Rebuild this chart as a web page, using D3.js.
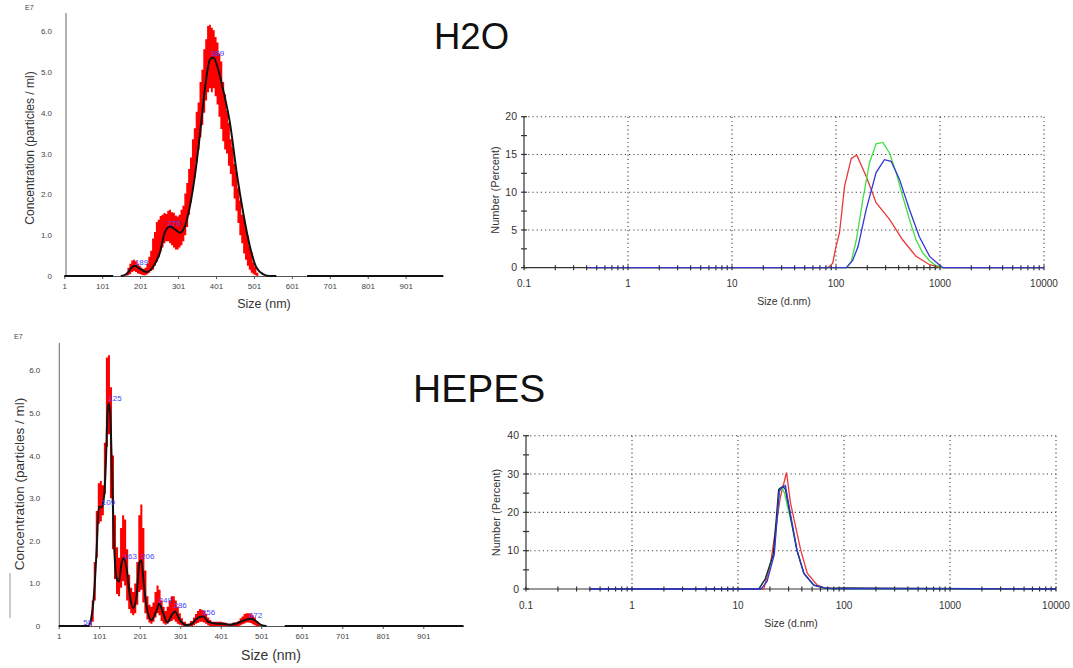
<!DOCTYPE html>
<html>
<head>
<meta charset="utf-8">
<script src="https://cdn.jsdelivr.net/npm/d3@7"></script>
<style>
body { margin: 0; background: #fff; }
svg { display: block; font-family: "Liberation Sans", Arial, sans-serif; }
</style>
</head>
<body>
<svg id="fig" width="1073" height="668"></svg>
<script>
// ---- NTA, H2O ----
const h2oMeanSize = [1, 130, 140, 150, 160, 170, 178, 187, 200, 218, 236, 253, 266, 280, 293, 306, 319, 332, 346, 359, 372, 385, 394, 407, 420, 438, 456, 473, 491, 508, 526, 543, 560, 640, 641, 1000];
const h2oMeanConc = [0, 0, null, 0, 0.02, 0.1, 0.2, 0.25, 0.18, 0.1, 0.24, 0.57, 1.07, 1.21, 1.14, 1.06, 1.22, 1.7, 2.5, 3.5, 4.6, 5.3, 5.35, 5.05, 4.55, 3.73, 2.5, 1.53, 0.7, 0.2, 0.04, 0, 0, null, 0, 0];
const h2oBandSize = [165, 170, 175, 180, 185, 190, 195, 200, 205, 210, 215, 220, 225, 230, 235, 240, 245, 250, 255, 260, 265, 270, 275, 280, 285, 290, 295, 300, 305, 310, 315, 320, 325, 330, 335, 340, 345, 350, 355, 360, 365, 370, 375, 380, 385, 390, 395, 400, 405, 410, 415, 420, 425, 430, 435, 440, 445, 450, 455, 460, 465, 470, 475, 480, 485, 490, 495, 500, 505, 510, 515];
const h2oBandUpper = [0.05, 0.2, 0.3, 0.38, 0.4, 0.36, 0.3, 0.25, 0.2, 0.17, 0.2, 0.3, 0.47, 0.62, 0.92, 1.08, 1.32, 1.38, 1.47, 1.5, 1.54, 1.52, 1.6, 1.62, 1.56, 1.55, 1.48, 1.46, 1.5, 1.62, 1.72, 2.02, 2.28, 2.62, 2.9, 3.35, 3.62, 4.02, 4.25, 4.75, 5.05, 5.55, 5.8, 6.12, 6.15, 6.08, 6.02, 5.85, 5.72, 5.45, 5.25, 4.75, 4.45, 4.05, 3.75, 3.35, 3.15, 2.75, 2.55, 2.15, 1.85, 1.5, 1.42, 1.18, 0.98, 0.72, 0.58, 0.33, 0.22, 0.08, 0];
const h2oBandLower = [0, 0.02, 0.05, 0.1, 0.12, 0.1, 0.06, 0.05, 0.03, 0.02, 0.02, 0.04, 0.08, 0.12, 0.15, 0.25, 0.35, 0.45, 0.6, 0.7, 0.8, 0.85, 0.85, 0.8, 0.75, 0.7, 0.65, 0.65, 0.7, 0.75, 0.85, 1.0, 1.2, 1.5, 1.8, 2.1, 2.4, 2.8, 3.1, 3.4, 3.7, 4.0, 4.3, 4.5, 4.6, 4.5, 4.6, 4.4, 4.2, 3.9, 3.6, 3.3, 3.1, 3.0, 2.7, 2.5, 2.2, 1.9, 1.6, 1.3, 1.0, 0.8, 0.55, 0.4, 0.25, 0.15, 0.08, 0.04, 0.02, 0, 0];
const h2oPeakSize = [189, 275, 389];
const h2oPeakConc = [0.25, 1.2, 5.35];

// ---- NTA, HEPES ----
const hepesMeanSize = [1, 74, 82, 89, 95, 100, 107, 113, 118, 121, 124, 128, 132, 137, 144, 150, 156, 162, 169, 177, 185, 193, 200, 205, 211, 218, 230, 243, 249, 259, 269, 280, 288, 300, 317, 329, 346, 358, 370, 387, 407, 424, 440, 461, 477, 490, 502, 514, 558, 559, 1000];
const hepesMeanConc = [0, 0, 0.22, 0.85, 1.86, 2.8, 2.78, 3.04, 3.98, 4.92, 5.23, 5.0, 3.82, 2.1, 1.12, 1.04, 1.47, 1.59, 1.32, 0.69, 0.42, 0.69, 1.47, 1.54, 1.0, 0.45, 0.14, 0.38, 0.52, 0.3, 0.08, 0.26, 0.34, 0.14, 0.02, 0.05, 0.2, 0.22, 0.1, 0.06, 0.05, 0.03, 0.06, 0.14, 0.17, 0.1, 0.02, 0, null, 0, 0];
const hepesBandSize = [80, 85, 90, 95, 100, 105, 110, 115, 120, 125, 130, 135, 140, 145, 150, 155, 160, 165, 170, 175, 180, 185, 190, 195, 200, 205, 210, 215, 220, 225, 230, 235, 240, 245, 250, 255, 260, 265, 270, 275, 280, 285, 290, 295, 300, 305, 310, 320, 330, 335, 340, 345, 350, 355, 360, 365, 370, 375, 380, 390, 400, 410, 420, 440, 445, 450, 455, 460, 465, 470, 475, 480, 485, 490, 495, 500];
const hepesBandUpper = [0.2, 0.6, 1.5, 2.7, 3.35, 3.4, 3.3, 4.3, 6.3, 6.35, 5.6, 4.0, 2.6, 1.85, 1.6, 2.3, 2.6, 2.5, 1.8, 1.2, 0.9, 0.8, 1.0, 1.5, 2.6, 2.85, 2.3, 1.3, 0.7, 0.5, 0.45, 0.55, 0.8, 0.95, 0.85, 0.6, 0.45, 0.35, 0.45, 0.6, 0.7, 0.7, 0.6, 0.45, 0.3, 0.18, 0.1, 0.05, 0.12, 0.2, 0.28, 0.35, 0.4, 0.38, 0.35, 0.28, 0.2, 0.14, 0.1, 0.1, 0.1, 0.08, 0.05, 0.08, 0.12, 0.18, 0.22, 0.28, 0.3, 0.3, 0.3, 0.25, 0.2, 0.12, 0.06, 0];
const hepesBandLower = [0, 0.1, 0.6, 1.6, 2.4, 2.45, 2.6, 3.1, 4.2, 4.5, 3.0, 1.8, 1.1, 0.75, 0.7, 0.9, 1.05, 0.95, 0.6, 0.4, 0.3, 0.25, 0.3, 0.5, 0.8, 0.85, 0.55, 0.3, 0.15, 0.08, 0.05, 0.1, 0.2, 0.3, 0.25, 0.12, 0.06, 0.03, 0.06, 0.1, 0.12, 0.15, 0.1, 0.05, 0.03, 0.01, 0, 0, 0, 0.02, 0.05, 0.07, 0.1, 0.1, 0.08, 0.05, 0.02, 0, 0, 0, 0, 0, 0, 0, 0, 0.02, 0.04, 0.06, 0.08, 0.08, 0.07, 0.04, 0.02, 0, 0, 0];
const hepesPeakSize = [58, 109, 125, 163, 206, 249, 286, 356, 472];
const hepesPeakConc = [0, 2.8, 5.25, 1.55, 1.55, 0.5, 0.4, 0.22, 0.17];

const ntaTicks = [1, 101, 201, 301, 401, 501, 601, 701, 801, 901];
const ntaConcTicks = [0, 1, 2, 3, 4, 5, 6];

// ---- DLS, H2O (Number %) ----
const h2oDlsRedSize = [0.4, 80, 86, 93, 100, 108, 121, 140, 158, 195, 243, 327, 437, 588, 795, 1000, 1100, 10000];
const h2oDlsRedPct = [0, 0, 0.1, 0.6, 2.8, 4.6, 10.8, 14.45, 14.93, 12.1, 8.6, 6.4, 3.7, 1.5, 0.4, 0.05, 0, 0];
const h2oDlsGreenSize = [0.4, 126, 140, 157, 181, 210, 243, 282, 327, 379, 437, 508, 588, 680, 795, 914, 1060, 10000];
const h2oDlsGreenPct = [0, 0, 0.8, 3.7, 9, 13.9, 16.4, 16.6, 15.2, 12.6, 9.5, 6.4, 3.7, 2.0, 0.9, 0.3, 0, 0];
const h2oDlsBlueSize = [0.4, 126, 145, 163, 195, 243, 292, 339, 408, 508, 633, 795, 1000, 1075, 10000];
const h2oDlsBluePct = [0, 0, 1.0, 2.8, 7.7, 12.6, 14.3, 14.1, 11.7, 7.7, 4.1, 1.5, 0.3, 0, 0];

// ---- DLS, HEPES (Number %) ----
const hepesDlsRedSize = [0.4, 17.5, 20.3, 25.1, 28.7, 31.3, 39, 45, 56, 65, 80, 100, 10000];
const hepesDlsRedPct = [0, 0, 6.7, 24, 30.4, 22.4, 10.2, 4.1, 1.0, 0.3, 0.1, 0, 0];
const hepesDlsGreenSize = [0.4, 15.7, 18.2, 21.8, 24.8, 26, 27.5, 32, 36, 41.7, 51.8, 64.6, 80, 10000];
const hepesDlsGreenPct = [0, 0, 2.8, 9.3, 26.3, 26.4, 25, 17, 10, 4.1, 1.0, 0.3, 0, 0];
const hepesDlsDarkSize = [0.4, 15.7, 18, 21.5, 24.2, 26.5, 28, 32, 36, 42, 52, 65, 80, 100, 10000];
const hepesDlsDarkPct = [0, 0, 2.5, 9, 26, 26.8, 26, 17.5, 10, 4, 1, 0.3, 0.2, 0.3, 0];
const hepesDlsBlueSize = [0.4, 16.5, 18.8, 22, 24.5, 26, 28, 32, 36, 41.7, 51.8, 64.6, 80, 95, 10000];
const hepesDlsBluePct = [0, 0, 2, 9, 25.5, 26.5, 27, 18, 10.2, 4.1, 1.0, 0.3, 0.05, 0.1, 0];

const dlsDecades = [0.1, 1, 10, 100, 1000, 10000];

const svg = d3.select("#fig");

const zip = (a, b) => a.map((v, i) => [v, b[i]]);

const drawNta = (o) => {
    const x = d3.scaleLinear().domain([1, 1000]).range([o.x0, o.x1]);
    const y = d3.scaleLinear().domain([0, o.yMax]).range([o.yBase, o.yTop]);
    const g = svg.append("g");

    g.append("text")
     .attr("x", o.e7x).attr("y", o.e7y)
     .attr("font-size", 7).attr("fill", "#444")
     .text("E7");

    // y axis: line plus labels, no ticks
    g.append("line")
     .attr("x1", o.axisX).attr("x2", o.axisX)
     .attr("y1", o.yTop).attr("y2", o.yBase)
     .attr("stroke", "#666").attr("stroke-width", 1);
    const ya = g.append("g")
                .attr("transform", `translate(${o.axisX},0)`)
                .call(d3.axisLeft(y).tickValues(ntaConcTicks).tickSize(0)
                        .tickPadding(o.yPad)
                        .tickFormat(d => d === 0 ? "0" : d.toFixed(1)));
    ya.select(".domain").remove();
    ya.selectAll("text").attr("font-size", 8).attr("fill", "#444")
      .attr("font-family", "Liberation Sans, Arial, sans-serif");

    const xa = g.append("g")
                .attr("transform", `translate(0,${o.yBase})`)
                .call(d3.axisBottom(x).tickValues(ntaTicks).tickSize(3)
                        .tickSizeOuter(0).tickPadding(4));
    xa.select(".domain").attr("stroke", "#555");
    xa.selectAll(".tick line").attr("stroke", "#555");
    xa.selectAll("text").attr("font-size", 8).attr("fill", "#444")
      .attr("font-family", "Liberation Sans, Arial, sans-serif");

    // red spread
    g.append("path")
     .datum(o.bandSize.map((s, i) => [s, o.bandLower[i], o.bandUpper[i]]))
     .attr("fill", "#ff0000")
     .attr("d", d3.area().curve(d3.curveStep)
                  .x(d => x(d[0])).y0(d => y(d[1])).y1(d => y(d[2])));

    // mean
    g.append("path")
     .datum(zip(o.meanSize, o.meanConc))
     .attr("fill", "none").attr("stroke", "#111").attr("stroke-width", 2)
     .attr("d", d3.line().defined(d => d[1] !== null)
                  .curve(d3.curveMonotoneX)
                  .x(d => x(d[0])).y(d => y(d[1])));

    g.selectAll("text.peak")
     .data(zip(o.peakSize, o.peakConc))
     .join("text")
     .attr("class", "peak")
     .attr("x", d => x(d[0]) + 6).attr("y", d => y(d[1]) - 4)
     .attr("dy", "0.35em")
     .attr("text-anchor", "middle")
     .attr("font-size", 8).attr("fill", "#4444ff")
     .text(d => d[0]);

    g.append("text")
     .attr("transform", `translate(${o.yLabX},${o.yLabY}) rotate(-90)`)
     .attr("text-anchor", "middle").attr("dy", "0.35em")
     .attr("font-size", o.labSize).attr("fill", "#333")
     .text("Concentration (particles / ml)");

    g.append("text")
     .attr("x", o.xLabX).attr("y", o.xLabY)
     .attr("text-anchor", "middle").attr("dy", "0.35em")
     .attr("font-size", o.labSize + 0.5).attr("fill", "#333")
     .text("Size (nm)");
};

const drawDls = (o) => {
    const x = d3.scaleLog().domain([0.1, 10000]).range([o.x0, o.x1]);
    const y = d3.scaleLinear().domain([0, o.yMax]).range([o.yBase, o.yTop]);
    const g = svg.append("g");
    const yMajor = d3.range(0, o.yMax + 0.001, o.yStep);
    const yMinor = d3.range(0, o.yMax + 0.001, o.yStep / 2);

    // dotted grid
    g.selectAll("line.hgrid")
     .data(yMajor.filter(v => v > 0))
     .join("line").attr("class", "hgrid")
     .attr("x1", o.x0).attr("x2", o.x1)
     .attr("y1", d => y(d)).attr("y2", d => y(d))
     .attr("stroke", "#444").attr("stroke-width", 1.1)
     .attr("stroke-dasharray", "1.2,3");
    g.selectAll("line.vgrid")
     .data(dlsDecades.slice(1))
     .join("line").attr("class", "vgrid")
     .attr("x1", d => x(d)).attr("x2", d => x(d))
     .attr("y1", o.yTop).attr("y2", o.yBase)
     .attr("stroke", "#444").attr("stroke-width", 1.1)
     .attr("stroke-dasharray", "1.2,3");

    // axes
    g.append("line")
     .attr("x1", o.x0).attr("x2", o.x0).attr("y1", o.yTop).attr("y2", o.yBase)
     .attr("stroke", "#333").attr("stroke-width", 1.2);
    g.append("line")
     .attr("x1", o.x0).attr("x2", o.x1).attr("y1", o.yBase).attr("y2", o.yBase)
     .attr("stroke", "#333").attr("stroke-width", 1.2);
    g.selectAll("line.ytick")
     .data(yMinor)
     .join("line").attr("class", "ytick")
     .attr("x1", o.x0 - 3).attr("x2", o.x0 + 3)
     .attr("y1", d => y(d)).attr("y2", d => y(d))
     .attr("stroke", "#333").attr("stroke-width", 1.2);
    g.selectAll("text.ylab")
     .data(yMajor)
     .join("text").attr("class", "ylab")
     .attr("x", o.x0 - 7).attr("y", d => y(d)).attr("dy", "0.35em")
     .attr("text-anchor", "end")
     .attr("font-size", 10.5).attr("fill", "#333")
     .text(d => d);

    // series
    const line = d3.line().x(d => x(d[0])).y(d => y(d[1]));
    o.series.forEach(s => {
        g.append("path")
         .datum(zip(s.size, s.pct))
         .attr("fill", "none").attr("stroke", s.color).attr("stroke-width", 1.3)
         .attr("d", line);
    });

    g.selectAll("line.xtick")
     .data(x.ticks())
     .join("line").attr("class", "xtick")
     .attr("x1", d => x(d)).attr("x2", d => x(d))
     .attr("y1", o.yBase - 2.5).attr("y2", o.yBase + 2.5)
     .attr("stroke", "#333").attr("stroke-width", 1.2);
    g.selectAll("text.xlab")
     .data(dlsDecades)
     .join("text").attr("class", "xlab")
     .attr("x", d => x(d)).attr("y", o.yBase + 16).attr("dy", "0.35em")
     .attr("text-anchor", "middle")
     .attr("font-size", 10).attr("fill", "#333")
     .text(d => d);

    g.append("text")
     .attr("transform", `translate(${o.yLabX},${o.yLabY}) rotate(-90)`)
     .attr("text-anchor", "middle").attr("dy", "0.35em")
     .attr("font-size", 11).attr("fill", "#333")
     .text("Number (Percent)");
    g.append("text")
     .attr("x", o.xLabX).attr("y", o.xLabY).attr("dy", "0.35em")
     .attr("text-anchor", "middle")
     .attr("font-size", 10.5).attr("fill", "#333")
     .text("Size (d.nm)");
};

drawNta({
    x0: 64.3, x1: 443.2, yBase: 276, yTop: 13, yMax: 6.44, axisX: 66, yPad: 14,
    e7x: 25, e7y: 10, yLabX: 30, yLabY: 148, xLabX: 264, xLabY: 304, labSize: 12,
    meanSize: h2oMeanSize, meanConc: h2oMeanConc,
    bandSize: h2oBandSize, bandUpper: h2oBandUpper, bandLower: h2oBandLower,
    peakSize: h2oPeakSize, peakConc: h2oPeakConc
});

drawNta({
    x0: 58.7, x1: 463.4, yBase: 626, yTop: 343, yMax: 6.64, axisX: 59.3, yPad: 19,
    e7x: 14, e7y: 339, yLabX: 19, yLabY: 484, xLabX: 271, xLabY: 655, labSize: 13.5,
    meanSize: hepesMeanSize, meanConc: hepesMeanConc,
    bandSize: hepesBandSize, bandUpper: hepesBandUpper, bandLower: hepesBandLower,
    peakSize: hepesPeakSize, peakConc: hepesPeakConc
});

// stray mark left of the lower NTA panel
svg.append("line")
   .attr("x1", 10).attr("x2", 10).attr("y1", 573).attr("y2", 618)
   .attr("stroke", "#999").attr("stroke-width", 1);

drawDls({
    x0: 524, x1: 1044, yBase: 267.7, yTop: 116.7, yMax: 20, yStep: 5,
    yLabX: 495, yLabY: 190, xLabX: 784, xLabY: 301.5,
    series: [
        {size: h2oDlsRedSize, pct: h2oDlsRedPct, color: "#e8383a"},
        {size: h2oDlsGreenSize, pct: h2oDlsGreenPct, color: "#3ee03e"},
        {size: h2oDlsBlueSize, pct: h2oDlsBluePct, color: "#3434d8"}
    ]
});

drawDls({
    x0: 526, x1: 1056, yBase: 589, yTop: 435.7, yMax: 40, yStep: 10,
    yLabX: 496.5, yLabY: 512.5, xLabX: 791, xLabY: 623,
    series: [
        {size: hepesDlsRedSize, pct: hepesDlsRedPct, color: "#e8383a"},
        {size: hepesDlsGreenSize, pct: hepesDlsGreenPct, color: "#3ee03e"},
        {size: hepesDlsDarkSize, pct: hepesDlsDarkPct, color: "#1c2a3a"},
        {size: hepesDlsBlueSize, pct: hepesDlsBluePct, color: "#3434d8"}
    ]
});

// panel titles
svg.append("text").attr("x", 434).attr("y", 48.5)
   .attr("font-size", 36.5).attr("fill", "#111").text("H2O");
svg.append("text").attr("x", 413).attr("y", 401.5)
   .attr("font-size", 39).attr("fill", "#111").text("HEPES");
</script>
</body>
</html>
